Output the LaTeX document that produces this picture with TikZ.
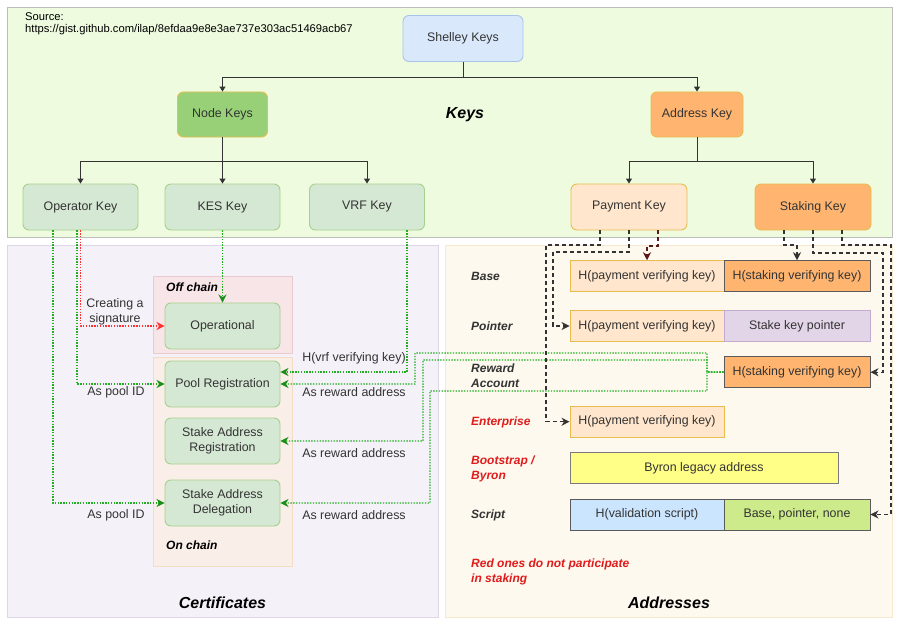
\documentclass[tikz,border=0pt]{standalone}
\usepackage{fontspec}
\setmainfont{Liberation Sans}
\usetikzlibrary{arrows.meta}
\definecolor{txt}{HTML}{333333}
\definecolor{keysbg}{HTML}{EEFBDF}
\definecolor{keysbd}{HTML}{BDBDBD}
\definecolor{certbg}{HTML}{F4F1F8}
\definecolor{certbd}{HTML}{DDD6E6}
\definecolor{addrbg}{HTML}{FEF9EF}
\definecolor{addrbd}{HTML}{F6E8CC}
\definecolor{offbg}{HTML}{F8E5E8}
\definecolor{offbd}{HTML}{EBCBD0}
\definecolor{onbg}{HTML}{FAEEE8}
\definecolor{onbd}{HTML}{F3DCC4}
\definecolor{blufill}{HTML}{DAE8FC}
\definecolor{blubd}{HTML}{A9C4EB}
\definecolor{nkfill}{HTML}{97D077}
\definecolor{gold}{HTML}{E8BC4E}
\definecolor{orfill}{HTML}{FFB570}
\definecolor{payfill}{HTML}{FFE6CC}
\definecolor{gfill}{HTML}{D5E8D4}
\definecolor{gbd}{HTML}{A6D18C}
\definecolor{ptrfill}{HTML}{E1D5E7}
\definecolor{ptrbd}{HTML}{C3ABD0}
\definecolor{byfill}{HTML}{FFFF88}
\definecolor{scfill}{HTML}{CCE5FF}
\definecolor{bpfill}{HTML}{CDEB8B}
\definecolor{darkbd}{HTML}{5A5A5A}
\definecolor{gline}{HTML}{22B022}
\definecolor{rline}{HTML}{FF3030}
\definecolor{bline}{HTML}{333333}
\definecolor{brline}{HTML}{5A1A1A}
\definecolor{redtxt}{HTML}{E01B1B}
\tikzset{
  base/.style={font=\fontsize{12.4}{14.5}\selectfont, text=txt, align=center, inner sep=0pt},
  keybox/.style={base, draw, rounded corners=6pt, minimum width=115pt, minimum height=46pt, line width=0.9pt},
  toplevel/.style={keybox, minimum width=90pt, minimum height=45pt},
  cell/.style={base, draw, minimum height=31pt, line width=0.9pt},
  title/.style={font=\fontsize{16}{19}\selectfont\bfseries\itshape, text=black, inner sep=0pt},
  rowlbl/.style={font=\fontsize{12}{15}\selectfont\bfseries\itshape, text=txt, anchor=west, align=left, inner sep=0pt},
  lbl/.style={font=\fontsize{12.4}{15}\selectfont, text=txt, align=center, inner sep=0pt},
  tree/.style={draw=bline, line width=1pt, -{Triangle[length=5pt,width=6pt]}},
  gdot/.style={draw=gline, line width=1.4pt, dash pattern=on 1.4pt off 1.4pt, -{Stealth[length=8pt,width=8pt,inset=2.5pt,color=gline!80!black]}},
  rdot/.style={draw=rline, line width=1.4pt, dash pattern=on 1.4pt off 1.4pt, -{Stealth[length=8pt,width=8pt,inset=2.5pt]}},
  bdash/.style={draw=bline, line width=1.4pt, dash pattern=on 4pt off 3pt, -{Stealth[length=8pt,width=8pt,inset=2.5pt]}},
}
\begin{document}
\begin{tikzpicture}[x=1pt,y=-1pt]
\useasboundingbox (0,0) rectangle (908,618);
\fill[white] (0,0) rectangle (908,618);
% panels
\draw[fill=keysbg, draw=keysbd] (7,7) rectangle (892,237);
\draw[fill=certbg, draw=certbd] (7,245) rectangle (438,617);
\draw[fill=addrbg, draw=addrbd] (445,245) rectangle (892,617);
\draw[fill=offbg, draw=offbd] (153,276) rectangle (292,353);
\draw[fill=onbg, draw=onbd] (153,357) rectangle (292,566);

% source
\node[font=\fontsize{11.2}{12.5}\selectfont, anchor=north west, align=left, inner sep=0pt, text=black] (src) at (25,12) {Source:\\https://gist.github.com/ilap/8efdaa9e8e3ae737e303ac51469acb67};

% titles
\node[title] (tkeys) at (465,114.5) {Keys};
\node[title] (tcert) at (222.5,603) {Certificates};
\node[title] (taddr) at (669,603) {Addresses};

% key tree
\node[keybox, fill=blufill, draw=blubd, minimum width=120pt] (shelley) at (463,38.5) {Shelley Keys};
\node[toplevel, fill=nkfill, draw=gold] (nodekeys) at (222.5,114.5) {Node Keys};
\node[toplevel, fill=orfill, draw=gold, minimum width=92pt] (addrkey) at (697,114.5) {Address Key};
\node[keybox, fill=gfill, draw=gbd] (opkey) at (80.5,207) {Operator Key};
\node[keybox, fill=gfill, draw=gbd] (keskey) at (222.5,207) {KES Key};
\node[keybox, fill=gfill, draw=gbd] (vrfkey) at (367,207) {VRF Key};
\node[keybox, fill=payfill, draw=gold, minimum width=116pt] (paykey) at (629,207) {Payment Key};
\node[keybox, fill=orfill, draw=gold, minimum width=116pt] (stkkey) at (813,207) {Staking Key};

\draw[tree] (shelley.south) -- ++(0,16) -| (nodekeys.north);
\draw[tree] (shelley.south) -- ++(0,16) -| (addrkey.north);
\draw[tree] (nodekeys.south) -- ++(0,24) -| (opkey.north);
\draw[tree] (nodekeys.south) -- (keskey.north);
\draw[tree] (nodekeys.south) -- ++(0,24) -| (vrfkey.north);
\draw[tree] (addrkey.south) -- ++(0,24) -| (paykey.north);
\draw[tree] (addrkey.south) -- ++(0,24) -| (stkkey.north);

% certificates
\node[font=\fontsize{12}{14}\selectfont\bfseries\itshape, anchor=west, inner sep=0pt, text=black] (offlbl) at (166,287) {Off chain};
\node[font=\fontsize{12}{14}\selectfont\bfseries\itshape, anchor=west, inner sep=0pt, text=black] (onlbl) at (166,545) {On chain};
\node[keybox, fill=gfill, draw=gbd] (operational) at (222.5,326) {Operational};
\node[keybox, fill=gfill, draw=gbd] (poolreg) at (222.5,384) {Pool Registration};
\node[keybox, fill=gfill, draw=gbd] (sareg) at (222.5,441) {Stake Address\\Registration};
\node[keybox, fill=gfill, draw=gbd] (sadeleg) at (222.5,503) {Stake Address\\Delegation};

% address rows
\node[rowlbl] (lbase) at (471,276) {Base};
\node[rowlbl] (lptr) at (471,326) {Pointer};
\node[rowlbl] (lrew) at (471,375.5) {Reward\\Account};
\node[rowlbl, text=redtxt] (lent) at (471,422) {Enterprise};
\node[rowlbl, text=redtxt] (lboot) at (471,468.5) {Bootstrap /\\Byron};
\node[rowlbl] (lscr) at (471,515) {Script};
\node[rowlbl, text=redtxt] (lred) at (471,572) {Red ones do not participate\\in staking};

\node[cell, fill=payfill, draw=gold, minimum width=154pt] (basepay) at (647,276.2) {H(payment verifying key)};
\node[cell, fill=orfill, draw=darkbd, minimum width=146pt] (basestk) at (797,276.2) {H(staking verifying key)};
\node[cell, fill=payfill, draw=gold, minimum width=154pt] (ptrpay) at (647,326) {H(payment verifying key)};
\node[cell, fill=ptrfill, draw=ptrbd, minimum width=146pt] (ptrstk) at (797,326) {Stake key pointer};
\node[cell, fill=orfill, draw=darkbd, minimum width=146pt] (rewstk) at (797,372.2) {H(staking verifying key)};
\node[cell, fill=payfill, draw=gold, minimum width=154pt] (entpay) at (647,421.7) {H(payment verifying key)};
\node[cell, fill=byfill, draw=darkbd!80, minimum width=268pt] (byron) at (704,468) {Byron legacy address};
\node[cell, fill=scfill, draw=darkbd, minimum width=154pt] (scrhash) at (647,514.5) {H(validation script)};
\node[cell, fill=bpfill, draw=darkbd, minimum width=146pt] (scrbase) at (797,514.5) {Base, pointer, none};

% green / red dotted connectors
\draw[gdot] ([xshift=-27.5pt]opkey.south) |- (sadeleg.west);
\draw[gdot] ([xshift=-3.5pt]opkey.south) |- (poolreg.west);
\draw[rdot] ([xshift=0pt]opkey.south) |- (operational.west);
\draw[gdot] (keskey.south) -- (operational.north);
\draw[gdot] ([xshift=40pt]vrfkey.south) |- ([yshift=12pt]poolreg.east);
\draw[gdot] (rewstk.west) -- (707,372) -- (707,353) -- (415,353) |- (poolreg.east);
\draw[gdot] (rewstk.west) -- (707,372) -- (707,360) -- (423,360) |- (sareg.east);
\draw[gdot] (rewstk.west) -- (707,372) -- (707,391) -- (430,391) |- (sadeleg.east);

\node[lbl] (l1) at (115,311.5) {Creating a\\signature};
\node[lbl] (l2) at (116,392) {As pool ID};
\node[lbl] (l3) at (116,515) {As pool ID};
\node[lbl] (l4) at (354,358) {H(vrf verifying key)};
\node[lbl] (l5) at (354,392) {As reward address};
\node[lbl] (l6) at (354,453.5) {As reward address};
\node[lbl] (l7) at (354,515) {As reward address};

% black dashed connectors
\draw[bdash] ([xshift=-29pt]paykey.south) -- (600,245) -- (546,245) |- (entpay.west);
\draw[bdash] (paykey.south) -- (629,252) -- (553,252) |- (ptrpay.west);
\draw[bdash, draw=brline] ([xshift=29pt]paykey.south) -- (658,246) -- (647,246) -- (basepay.north);
\draw[bdash] ([xshift=-29pt]stkkey.south) -- (784,245) -- (797,245) -- (basestk.north);
\draw[bdash] (stkkey.south) -- (813,253) -- (883,253) |- (rewstk.east);
\draw[bdash] ([xshift=29pt]stkkey.south) -- (842,245) -- (891,245) |- (scrbase.east);
\end{tikzpicture}
\end{document}
